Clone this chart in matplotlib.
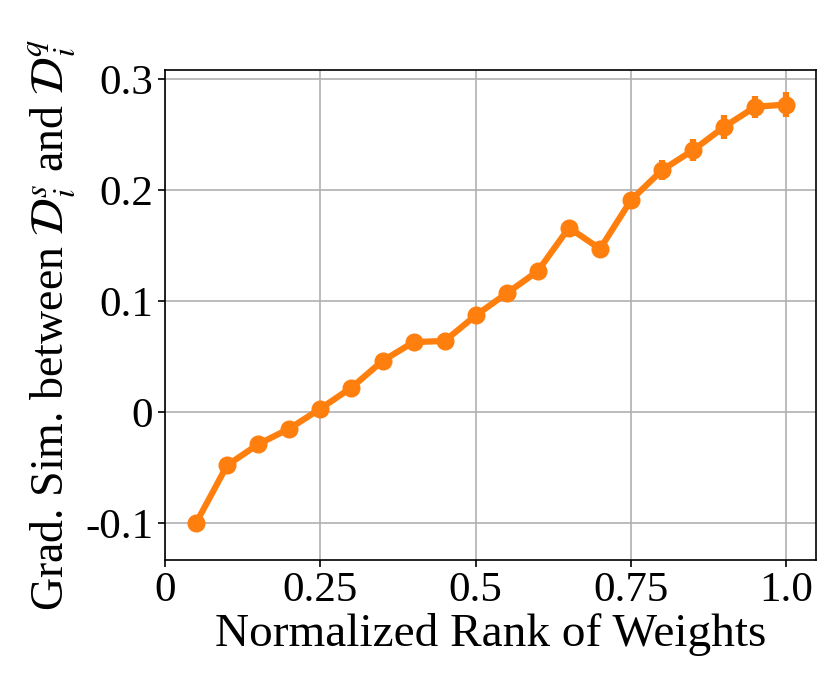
import matplotlib
matplotlib.use("Agg")
import matplotlib.pyplot as plt

x = [0.05, 0.10, 0.15, 0.20, 0.25, 0.30, 0.35, 0.40, 0.45, 0.50,
     0.55, 0.60, 0.65, 0.70, 0.75, 0.80, 0.85, 0.90, 0.95, 1.00]
y = [-0.100, -0.048, -0.029, -0.015, 0.003, 0.022, 0.046, 0.063, 0.064, 0.087,
     0.107, 0.127, 0.166, 0.147, 0.191, 0.218, 0.236, 0.257, 0.275, 0.277]
yerr = [0.004, 0.006, 0.006, 0.005, 0.004, 0.006, 0.006, 0.006, 0.007, 0.007,
        0.006, 0.006, 0.004, 0.006, 0.006, 0.009, 0.010, 0.011, 0.010, 0.011]
xticks = [0, 0.25, 0.5, 0.75, 1.0]
xticklabels = ["0", "0.25", "0.5", "0.75", "1.0"]
yticks = [-0.1, 0, 0.1, 0.2, 0.3]
yticklabels = ["-0.1", "0", "0.1", "0.2", "0.3"]

plt.rcParams['font.family'] = ['Liberation Serif', 'DejaVu Serif']
plt.rcParams['mathtext.fontset'] = 'stix'

fig = plt.figure(figsize=(8.30, 6.74), dpi=100)
ax = fig.add_axes([165/830, 1 - 560/674, (816 - 165)/830, (560 - 70)/674])
ax.errorbar(x, y, yerr=yerr, color='#ff7f0e', linewidth=4.5, marker='o',
            markersize=12, elinewidth=4.5, capsize=0, zorder=3)
ax.set_xlim(0, 1.0475)
ax.set_ylim(-0.1333, 0.3081)
ax.set_xticks(xticks)
ax.set_xticklabels(xticklabels)
ax.set_yticks(yticks)
ax.set_yticklabels(yticklabels)
ax.tick_params(labelsize=31, length=5, width=1.2)
for s in ax.spines.values():
    s.set_linewidth(1.2)
ax.grid(True, color='#b0b0b0', linewidth=1.2)
ax.set_axisbelow(True)
ax.set_xlabel('Normalized Rank of Weights', fontsize=34, labelpad=2)
ax.set_ylabel(r'Grad. Sim. between $\mathcal{D}_i^s$ and $\mathcal{D}_i^q$', fontsize=33)
ax.yaxis.set_label_coords(-0.135, 0.48)
fig.savefig('out.png', dpi=100)
